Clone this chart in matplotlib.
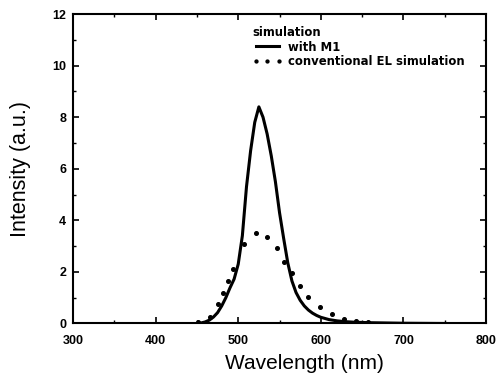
import matplotlib
matplotlib.use("Agg")
import matplotlib.pyplot as plt
from matplotlib.ticker import MultipleLocator

plt.rcParams['font.family'] = ['Liberation Sans', 'DejaVu Sans']

# solid curve: simulation with M1
wl_m1 = [450, 455, 460, 465, 470, 475, 480, 485, 490, 495, 500, 505, 510,
         515, 520, 525, 530, 535, 540, 545, 550, 555, 560, 565, 570, 575,
         580, 585, 590, 595, 600, 610, 620, 630, 640, 660, 680, 700, 750]
int_m1 = [0.0, 0.02, 0.06, 0.13, 0.25, 0.42, 0.68, 1.0, 1.38, 1.72, 2.3,
          3.4, 5.3, 6.7, 7.8, 8.4, 8.0, 7.35, 6.5, 5.5, 4.3, 3.3, 2.35,
          1.65, 1.2, 0.9, 0.68, 0.52, 0.4, 0.31, 0.24, 0.15, 0.1, 0.07,
          0.05, 0.03, 0.02, 0.01, 0.0]

# dotted: conventional EL simulation
wl_el = [451, 466, 475, 482, 488, 494, 507, 521, 535, 547, 556, 565, 575,
         585, 599, 613, 628, 643, 657]
int_el = [0.07, 0.26, 0.75, 1.17, 1.66, 2.1, 3.09, 3.5, 3.37, 2.92, 2.4,
          1.95, 1.47, 1.04, 0.63, 0.37, 0.17, 0.1, 0.07]

fig = plt.figure(figsize=(4.98, 3.84), dpi=100)
ax = fig.add_axes([0.1466, 0.1576, 0.8294, 0.8059])

ax.plot(wl_m1, int_m1, color='black', lw=2.2, label='with M1')
ax.plot(wl_el, int_el, ls='none', marker='o', ms=2.6, color='black',
        label='conventional EL simulation')

ax.set_xlim(300, 800)
ax.set_ylim(0, 12)
ax.xaxis.set_major_locator(MultipleLocator(100))
ax.xaxis.set_minor_locator(MultipleLocator(50))
ax.yaxis.set_major_locator(MultipleLocator(2))
ax.yaxis.set_minor_locator(MultipleLocator(1))
ax.tick_params(which='both', direction='in', top=True, right=True)
ax.tick_params(which='major', length=4, width=1.2, labelsize=9)
ax.tick_params(which='minor', length=2.5, width=1)
ax.tick_params(axis='x', which='major', pad=8)
ax.tick_params(axis='y', which='major', pad=5)
for lab in ax.get_xticklabels() + ax.get_yticklabels():
    lab.set_fontweight('bold')
for s in ax.spines.values():
    s.set_linewidth(1.5)

ax.set_xlabel('Wavelength (nm)', fontsize=15, va='center')
ax.set_ylabel('Intensity (a.u.)', fontsize=15.5, va='center')
ax.xaxis.set_label_coords(0.56, -0.128)
ax.yaxis.set_label_coords(-0.128, 0.5)

leg_font = {'family': 'DejaVu Sans', 'weight': 'bold', 'size': 8.4}
leg = ax.legend(title='simulation', loc='upper left',
                bbox_to_anchor=(0.4334, 0.962), frameon=False,
                prop=leg_font, title_fontproperties=leg_font,
                handlelength=2.6, handletextpad=0.45, borderpad=0,
                borderaxespad=0, labelspacing=0.15, numpoints=3,
                markerscale=0.8)
leg._legend_box.align = 'left'

fig.savefig('out.png', dpi=100)
